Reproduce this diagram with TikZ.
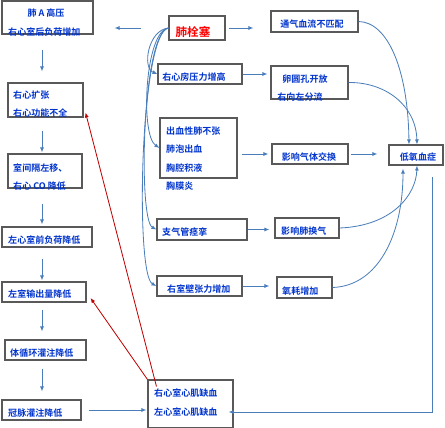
\documentclass[tikz,border=0pt]{standalone}
\usepackage{fontspec}
\setmainfont{Noto Sans CJK SC}[BoldFont={Noto Sans CJK SC Bold}]
\usepackage{tikz}
\usetikzlibrary{arrows.meta,positioning,fit,calc}
\definecolor{boxgray}{RGB}{89,89,89}
\definecolor{txtblue}{RGB}{0,51,204}
\definecolor{arrblue}{RGB}{74,126,187}
\definecolor{arrred}{RGB}{192,0,0}
\begin{document}
\begin{tikzpicture}[x=0.03cm,y=-0.03cm,
  bx/.style={draw=boxgray, line width=0.9pt, inner sep=0pt},
  txt/.style={font=\fontsize{7.7}{9}\selectfont\bfseries, text=txtblue, inner sep=0pt, anchor=west},
  arr/.style={draw=arrblue, line width=0.7pt, -{Latex[length=1.5mm,width=1.2mm]}},
  redarr/.style={draw=arrred, line width=0.7pt, -{Latex[length=1.5mm,width=1.2mm]}}]
\useasboundingbox (0,0) rectangle (445,428);
% boxes
\node[bx, fit={(2,1) (93,34)}] (pah) {};
\node[bx, fit={(169,16) (225,40)}] (pe) {};
\node[bx, fit={(271,11) (358,32)}] (vq) {};
\node[bx, fit={(158,64) (242,84)}] (rap) {};
\node[bx, fit={(271,66) (348,99)}] (pfo) {};
\node[bx, fit={(8,83) (83,117)}] (rvd) {};
\node[bx, fit={(160,118) (237,178)}] (hem) {};
\node[bx, fit={(272,144) (348,164)}] (gas) {};
\node[bx, fit={(389,145) (443,165)}] (hypo) {};
\node[bx, fit={(8,154) (82,188)}] (sep) {};
\node[bx, fit={(2,227) (92,247)}] (lvp) {};
\node[bx, fit={(157,219) (247,240)}] (bro) {};
\node[bx, fit={(275,218) (339,238)}] (vent) {};
\node[bx, fit={(157,276) (242,296)}] (rvw) {};
\node[bx, fit={(277,277) (332,298)}] (oxy) {};
\node[bx, fit={(2,282) (86,302)}] (lvo) {};
\node[bx, fit={(5,340) (86,360)}] (sys) {};
\node[bx, fit={(2,400) (81,420)}] (cor) {};
\node[bx, fit={(148,380) (233,428)}] (isc) {};
% texts
\node[txt, anchor=center] (tpah) at (46,13) {肺 A 高压};
\node[txt] (tpahb) at (8,32) {右心室后负荷增加};
\node[txt, anchor=center, font=\fontsize{9.9}{11}\selectfont\bfseries, text=red] (tpe) at (193,32) {肺栓塞};
\node[txt, anchor=center] (tvq) at (312,24) {通气血流不匹配};
\node[txt, anchor=center] (trap) at (194,77) {右心房压力增高};
\node[txt, anchor=center] (tpfo) at (305,79) {卵圆孔开放};
\node[txt, anchor=center] (tpfob) at (300,97) {右向左分流};
\node[txt] (trvd) at (13,95) {右心扩张};
\node[txt] (trvdb) at (13,113) {右心功能不全};
\node[txt] (thema) at (166,131) {出血性肺不张};
\node[txt] (themb) at (166,149) {肺泡出血};
\node[txt] (themc) at (166,168) {胸腔积液};
\node[txt] (themd) at (166,186) {胸膜炎};
\node[txt, anchor=center] (tgas) at (309,157) {影响气体交换};
\node[txt, anchor=center] (thypo) at (418,157) {低氧血症};
\node[txt] (tsep) at (13,168) {室间隔左移、};
\node[txt] (tsepb) at (13,186) {右心 CO 降低};
\node[txt] (tlvp) at (8,240) {左心室前负荷降低};
\node[txt] (tbro) at (162,232) {支气管痉挛};
\node[txt] (tvent) at (281,231) {影响肺换气};
\node[txt] (trvw) at (167,289) {右室壁张力增加};
\node[txt] (toxy) at (282,291) {氧耗增加};
\node[txt] (tlvo) at (8,294) {左室输出量降低};
\node[txt] (tsys) at (10,353) {体循环灌注降低};
\node[txt] (tcor) at (8,413) {冠脉灌注降低};
\node[txt] (tisc) at (154,393) {右心室心肌缺血};
\node[txt] (tiscb) at (154,412) {左心室心肌缺血};
% left column
\coordinate (colx) at (42,0);
\draw[arr, shorten <=0.45cm, shorten >=0.33cm] (pah.south -| colx) -- (rvd.north -| colx);
\draw[arr, shorten <=0.39cm, shorten >=0.03cm] (rvd.south -| colx) -- (sep.north -| colx);
\draw[arr, shorten <=0.45cm, shorten >=0.06cm] (sep.south -| colx) -- (lvp.north -| colx);
\draw[arr, shorten <=0.33cm, shorten >=0.03cm] (lvp.south -| colx) -- (lvo.north -| colx);
\draw[arr, shorten <=0.21cm, shorten >=0.24cm] (lvo.south -| colx) -- (sys.north -| colx);
\draw[arr, shorten <=0.24cm, shorten >=0.24cm] (sys.south -| colx) -- (cor.north -| colx);
\draw[arr, shorten <=0.21cm, shorten >=0.03cm] (cor.east) -- (cor.east -| isc.west);
% straight arrows
\draw[arr, shorten <=0.81cm, shorten >=0.63cm] (pe.west) -- (pe.west -| pah.east);
\draw[arr, shorten <=0.09cm, shorten >=0.51cm] (pe.east) -- (pe.east -| vq.west);
\draw[arr, shorten >=0.09cm] (rap.east) -- (rap.east -| pfo.west);
\draw[arr, shorten <=0.12cm, shorten >=0.09cm] (hem.east |- gas.west) -- (gas.west);
\draw[arr, shorten <=0.06cm, shorten >=0.33cm] (gas.east) -- (gas.east -| hypo.west);
\draw[arr, shorten >=0.15cm] (bro.east) -- (bro.east -| vent.west);
\draw[arr, shorten >=0.21cm] (rvw.east) -- (rvw.east -| oxy.west);
% curves from pe
\draw[arr] (pe.west) .. controls (148,30) and (142,68) .. (rap.west);
\draw[arr] (pe.west) .. controls (145,31) and (140,135) .. (hem.west);
\draw[arr] (pe.west) .. controls (142,32) and (138,220) .. (bro.west);
\draw[arr] (pe.west) .. controls (140,33) and (135,275) .. (rvw.west);
% curves into hypoxaemia
\draw[arr] (vq.east) .. controls (388,22) and (408,70) .. ([shift={(-7,0)}]hypo.north);
\draw[arr] (pfo.east) .. controls (385,82) and (416,105) .. ([shift={(1,0)}]hypo.north);
\draw[arr] (vent.east) .. controls (392,226) and (416,195) .. ([shift={(1,0)}]hypo.south);
\draw[arr] (oxy.east) .. controls (378,286) and (403,235) .. ([shift={(-13,3)}]hypo.south);
\coordinate (hx) at (432,177);
\draw[arr, shorten >=-0.15cm] (hx) |- (isc.east |- tiscb);
% red arrows
\draw[redarr] ([shift={(9,7)}]isc.north west) -- ([shift={(2,-5)}]rvd.south east);
\draw[redarr] (isc.north west) -- ([shift={(4,6)}]lvo.east);
\end{tikzpicture}
\end{document}
